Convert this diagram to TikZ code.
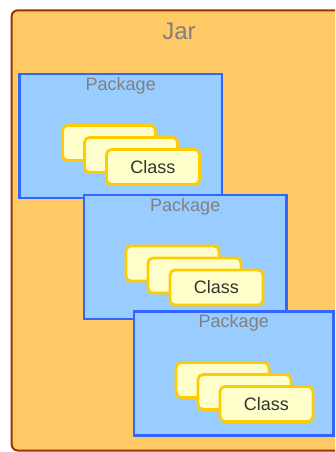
\documentclass[tikz,border=0pt]{standalone}
\usepackage{fontspec}
\setmainfont{Liberation Sans}
\usetikzlibrary{positioning}

\definecolor{jarfill}{HTML}{FFC966}
\definecolor{jarline}{HTML}{993300}
\definecolor{pkgfill}{HTML}{99CCFF}
\definecolor{pkgline}{HTML}{3366FF}
\definecolor{clsfill}{HTML}{FFFFCC}
\definecolor{clsline}{HTML}{FFCC00}
\definecolor{titlegray}{HTML}{808080}
\definecolor{clstext}{HTML}{333333}

\begin{document}
\begin{tikzpicture}[
    x = 1pt,
    y = -1pt,
    jar/.style = {
      draw = jarline,
      fill = jarfill,
      line width = 2pt,
      rounded corners = 6pt,
      rectangle,
      inner sep = 0pt,
      outer sep = 0pt,
      anchor = north west
    },
    pkg/.style = {
      draw = pkgline,
      fill = pkgfill,
      line width = 2.8pt,
      rectangle,
      inner sep = 0pt,
      outer sep = 0pt,
      anchor = north west,
      minimum height = 124pt
    },
    cls/.style = {
      draw = clsline,
      fill = clsfill,
      line width = 2.8pt,
      rounded corners = 5pt,
      rectangle,
      inner sep = 0pt,
      outer sep = 0pt,
      anchor = north west,
      minimum width = 93pt,
      minimum height = 35pt,
      text = clstext,
      font = \fontsize{18}{18}\selectfont
    },
    title/.style = {
      text = titlegray,
      inner sep = 0pt
    }
  ]
  \clip (0,0) rectangle (335,452);

  % the jar
  \node[jar, minimum width = 334.6pt, minimum height = 440.2pt] (jar) at (11.7,10.3) {};
  \node[title, below = 12pt of jar.north, font = \fontsize{24}{24}\selectfont] (jartitle) {Jar};

  % first package
  \node[pkg, minimum width = 202.5pt] (pkgA) at (19.5,74) {};
  \node[title, below = 3.5pt of pkgA.north, font = \fontsize{18}{18}\selectfont] (pkgAtitle) {Package};
  \node[cls] (clsA1) at ([shift={(43,51.5)}]pkgA.north west) {};
  \node[cls] (clsA2) at ([shift={(22,12)}]clsA1.north west) {};
  \node[cls] (clsA3) at ([shift={(22,12)}]clsA2.north west) {Class};

  % second package
  \node[pkg, minimum width = 202.5pt] (pkgB) at (84,195) {};
  \node[title, below = 3pt of pkgB.north, font = \fontsize{18}{18}\selectfont] (pkgBtitle) {Package};
  \node[cls] (clsB1) at ([shift={(42,51)}]pkgB.north west) {};
  \node[cls] (clsB2) at ([shift={(22,12)}]clsB1.north west) {};
  \node[cls] (clsB3) at ([shift={(22,12)}]clsB2.north west) {Class};

  % third package
  \node[pkg, minimum width = 199.5pt] (pkgC) at (134,311.5) {};
  \node[title, below = 2.5pt of pkgC.north, font = \fontsize{18}{18}\selectfont] (pkgCtitle) {Package};
  \node[cls] (clsC1) at ([shift={(42,51)}]pkgC.north west) {};
  \node[cls] (clsC2) at ([shift={(22,12)}]clsC1.north west) {};
  \node[cls] (clsC3) at ([shift={(22,12)}]clsC2.north west) {Class};

\end{tikzpicture}
\end{document}
